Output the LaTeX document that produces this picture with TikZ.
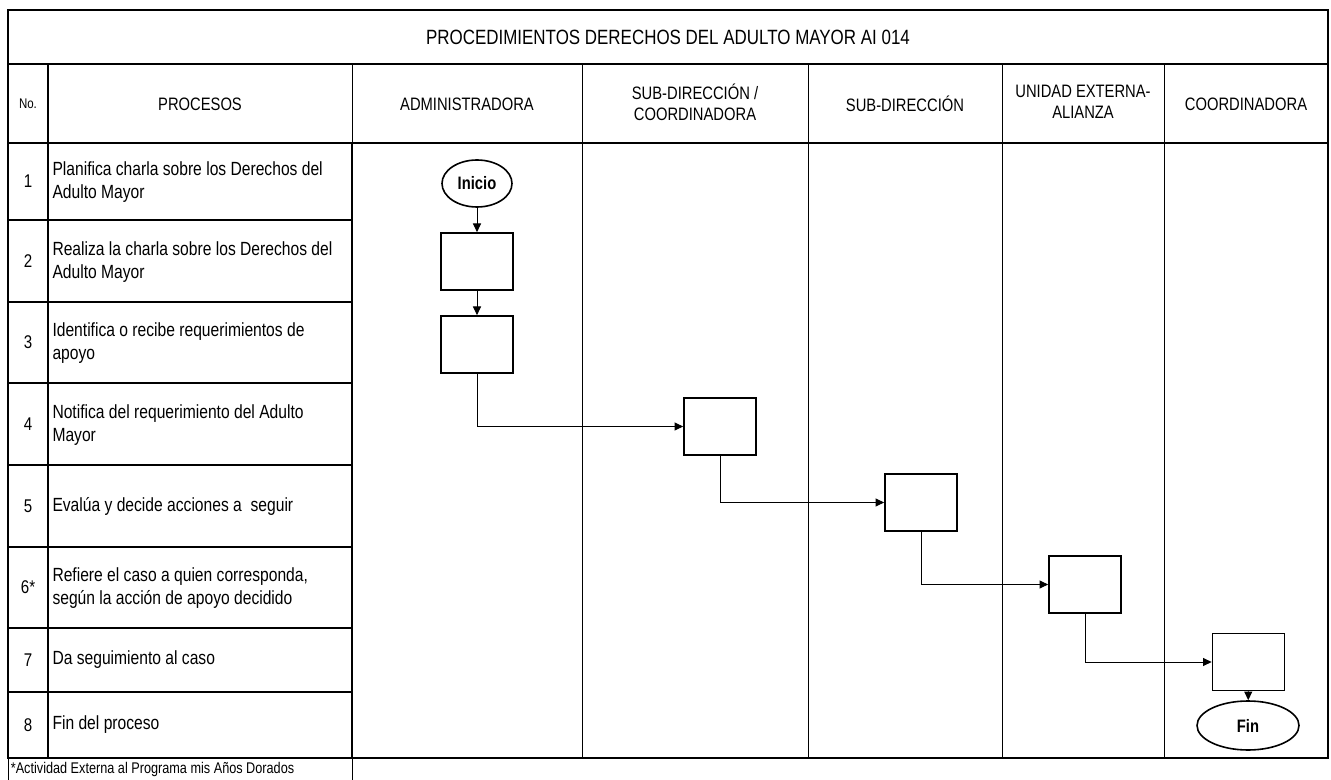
\documentclass[tikz,border=0pt]{standalone}
\usepackage{fontspec}
\setmainfont[FakeStretch=0.82]{Liberation Sans}
\usetikzlibrary{shapes.geometric,arrows.meta}

\tikzset{every picture/.style={line width=0.75pt}}
\tikzset{
  grueso/.style={line width=1.3pt},
  carril/.style={line width=0.75pt},
  encabezado/.style={font=\fontsize{13.5}{15.5}\selectfont,align=center,inner sep=0.75pt},
  numero/.style={font=\fontsize{13.8}{16}\selectfont,inner sep=0.75pt},
  proceso/.style={font=\fontsize{14.3}{17.3}\selectfont,align=left,anchor=west,inner sep=1.5pt},
  actividad/.style={draw,line width=1.25pt,minimum width=54pt,minimum height=42.75pt,inner sep=0pt},
  terminal/.style={draw,ellipse,line width=1.2pt,inner sep=0pt,font=\fontsize{13.5}{15}\selectfont\bfseries},
  flecha/.style={line width=0.75pt,-{Triangle[length=6.5pt,width=6pt]}}
}

\begin{document}
\begin{tikzpicture}[x=0.75pt,y=0.75pt,yscale=-1,xscale=1]
\useasboundingbox (0,0) rectangle (1331,780);

%Shape: Rectangle [frame]
\draw [grueso] (8,10) rectangle (1328,758);
%Straight Lines [header rows]
\draw [grueso] (8,64) -- (1328,64);
\draw [grueso] (8,143) -- (1328,143);
%Straight Lines [lanes]
\draw [carril] (352,64) -- (352,143);
\draw [carril] (582,64) -- (582,758);
\draw [carril] (808,64) -- (808,758);
\draw [carril] (1002,64) -- (1002,758);
\draw [carril] (1164,64) -- (1164,758);
%Straight Lines [process columns]
\draw [grueso] (48,64) -- (48,758);
\draw [grueso] (352,143) -- (352,758);
\draw [grueso] (8,220) -- (352,220);
\draw [grueso] (8,302) -- (352,302);
\draw [grueso] (8,383) -- (352,383);
\draw [grueso] (8,465) -- (352,465);
\draw [grueso] (8,547) -- (352,547);
\draw [grueso] (8,628) -- (352,628);
\draw [grueso] (8,692) -- (352,692);
%Straight Lines [note]
\draw [carril] (8,758) -- (8,780);
\draw [carril] (352,758) -- (352,780);

% Text Node
\node (titulo) at (668,37) [inner sep=0.75pt,font=\fontsize{15.5}{18}\selectfont] {PROCEDIMIENTOS DERECHOS DEL ADULTO MAYOR AI 014};
% Text Node
\node (no) at (28,104) [inner sep=0.75pt,font=\fontsize{10.5}{12}\selectfont] {No.};
\node (procesos) at (200,104) [encabezado] {PROCESOS};
\node (admin) at (467,104) [encabezado] {ADMINISTRADORA};
\node (subcoord) at (695,102) [encabezado] {SUB-DIRECCIÓN /\\COORDINADORA};
\node (subdir) at (905,104) [encabezado] {SUB-DIRECCIÓN};
\node (unidad) at (1083,102) [encabezado] {UNIDAD EXTERNA-\\ALIANZA};
\node (coord) at (1246,104) [encabezado] {COORDINADORA};

% Text Node
\node (n1) at (28,181.5) [numero] {1};
\node (p1) at (50,182.5) [proceso] {Planifica charla sobre los Derechos del\\Adulto Mayor};
\node (n2) at (28,261.5) [numero] {2};
\node (p2) at (50,262.5) [proceso] {Realiza la charla sobre los Derechos del\\Adulto Mayor};
\node (n3) at (28,342.5) [numero] {3};
\node (p3) at (50,343.5) [proceso] {Identifica o recibe requerimientos de\\apoyo};
\node (n4) at (28,424) [numero] {4};
\node (p4) at (50,425) [proceso] {Notifica del requerimiento del Adulto\\Mayor};
\node (n5) at (28,506) [numero] {5};
\node (p5) at (50,506) [proceso] {Evalúa y decide acciones a\ \ seguir};
\node (n6) at (28,587.5) [numero] {6*};
\node (p6) at (50,588.5) [proceso] {Refiere el caso a quien corresponda,\\según la acción de apoyo decidido};
\node (n7) at (28,660) [numero] {7};
\node (p7) at (50,660) [proceso] {Da seguimiento al caso};
\node (n8) at (28,725) [numero] {8};
\node (p8) at (50,725) [proceso] {Fin del proceso};
% Text Node
\node (nota) at (9,769) [anchor=west,inner sep=1pt,font=\fontsize{11.6}{13}\selectfont] {*Actividad Externa al Programa mis Años Dorados};

%Flowchart
\node (inicio) at (477,183.5) [terminal,minimum width=52.5pt,minimum height=35.25pt] {Inicio};
\node (a1) at (477,261.5) [actividad] {};
\node (a2) at (477,344.5) [actividad] {};
\node (a3) at (720,426.5) [actividad] {};
\node (a4) at (921,502.5) [actividad] {};
\node (a5) at (1085,584.5) [actividad] {};
\node (a6) at (1248.5,662) [actividad] {};
\node (fin) at (1248,725.5) [terminal,minimum width=76.5pt,minimum height=36.75pt] {Fin};

\draw [flecha] (inicio) -- (a1);
\draw [flecha] (a1) -- (a2);
\draw [flecha] (a2) |- (a3);
\draw [flecha] (a3) |- (a4);
\draw [flecha] (a4) |- (a5);
\draw [flecha] (a5) |- (a6);
\draw [flecha] (a6) -- (fin);

\end{tikzpicture}
\end{document}
